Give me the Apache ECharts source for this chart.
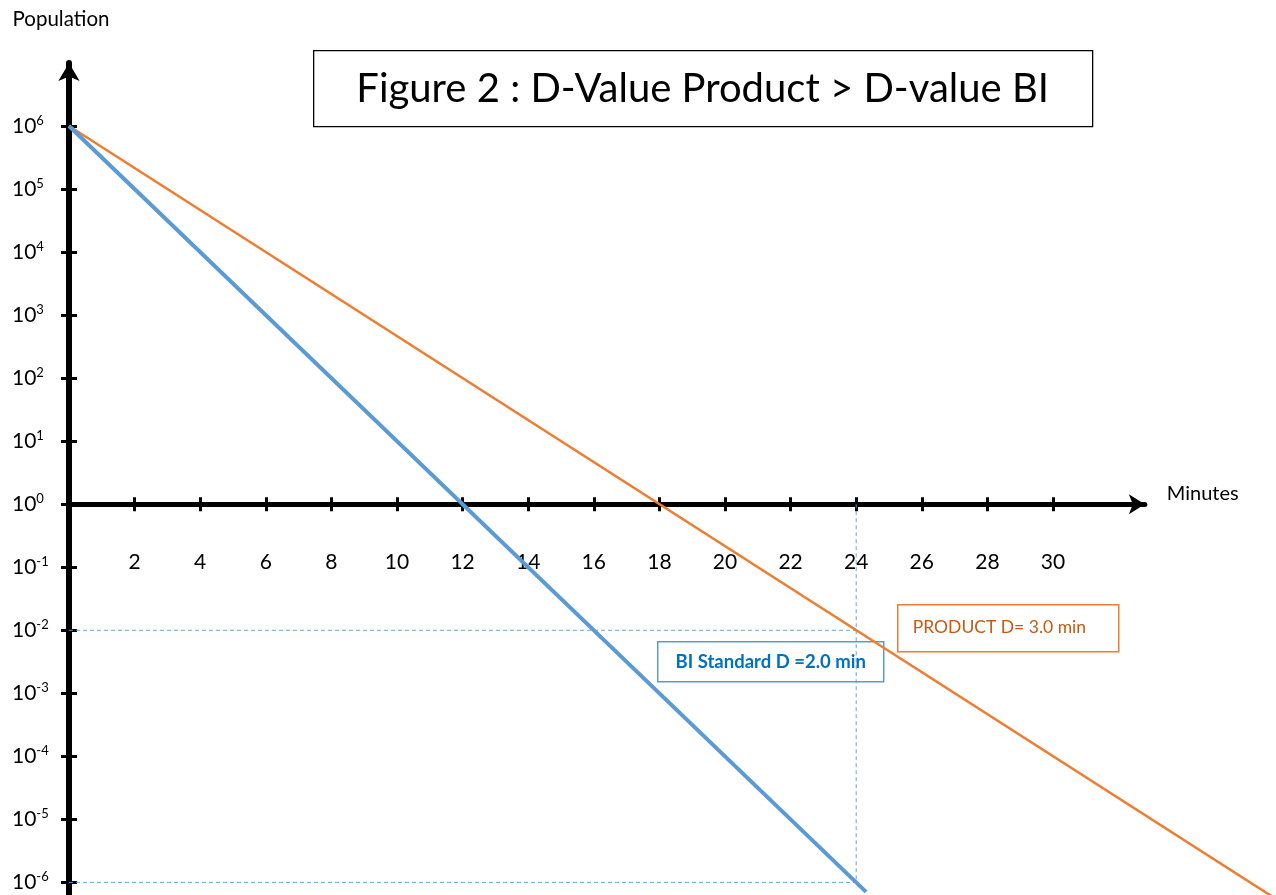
<!DOCTYPE html>
<html><head><meta charset="utf-8">
<script src="https://cdn.jsdelivr.net/npm/echarts@6/dist/echarts.min.js"></script>
<style>html,body{margin:0;padding:0;background:#fff}#c{width:1276px;height:895px}</style>
</head><body><div id="c"></div>
<script>
// ---- data ----
const xTicks = [2, 4, 6, 8, 10, 12, 14, 16, 18, 20, 22, 24, 26, 28, 30];      // minutes
const yExponents = [-6, -5, -4, -3, -2, -1, 0, 1, 2, 3, 4, 5, 6];              // log10(population)
const biLine = [[0, 6], [24.3, -6.15]];          // BI Standard, D = 2.0 min
const productLine = [[0, 6], [37, -6.33]];       // Product, D = 3.0 min
const guideAt1e2 = [[0, -2], [24, -2]];
const guideAt1e6 = [[0, -6], [24, -6]];
const guideAt24 = [[24, 0], [24, -6]];
const titleText = 'Figure 2 : D-Value Product > D-value BI';
const biLabel = 'BI Standard D =2.0 min';
const productLabel = 'PRODUCT D= 3.0 min';

const FONT = 'Lato, "Open Sans", sans-serif';
const PX_PER_MIN = 32.8, LEFT = 69, TOP = 63, HEIGHT = 832;
const AXIS_MAX = 32.8, DATA_MAX = 37, Y_MIN = -6.2, Y_MAX = 7;
const zeroY = TOP + HEIGHT * Y_MAX / (Y_MAX - Y_MIN);

const chart = echarts.init(document.getElementById('c'), null, {renderer: 'canvas'});
const guide = (d) => ({
  type: 'line', data: d, symbol: 'none', xAxisIndex: 3, yAxisIndex: 2, z: 1,
  lineStyle: {color: '#5b9bd5', width: 1, type: [4, 3], opacity: 0.9}
});
chart.setOption({
  animation: false,
  backgroundColor: '#fff',
  grid: [
    {left: LEFT, top: TOP, width: AXIS_MAX * PX_PER_MIN, height: HEIGHT, containLabel: false, outerBoundsMode: 'none'},
    {left: LEFT, top: TOP, width: DATA_MAX * PX_PER_MIN, height: HEIGHT, containLabel: false, outerBoundsMode: 'none'}
  ],
  xAxis: [{
    gridIndex: 0, type: 'value', min: 0, max: AXIS_MAX, position: 'bottom',
    splitLine: {show: false},
    axisLine: {show: true, onZero: true, lineStyle: {color: '#000', width: 5}, symbol: ['none', 'arrow'], symbolSize: [15, 16]},
    axisTick: {show: true, customValues: xTicks, length: 7, lineStyle: {color: '#000', width: 3}},
    axisLabel: {show: false},
    name: 'Minutes', nameLocation: 'end', nameGap: 22,
    nameTextStyle: {fontSize: 20, fontFamily: FONT, color: '#000', verticalAlign: 'bottom', padding: [0, 0, 1, 0]}
  }, {
    gridIndex: 0, type: 'value', min: 0, max: AXIS_MAX, position: 'top',
    splitLine: {show: false},
    axisLine: {show: true, onZero: true, lineStyle: {color: '#000', width: 0, opacity: 0}},
    axisTick: {show: true, customValues: xTicks, length: 7, lineStyle: {color: '#000', width: 3}},
    axisLabel: {show: false}
  }, {
    gridIndex: 0, type: 'value', min: 0, max: AXIS_MAX, interval: 2, position: 'bottom',
    offset: zeroY - (TOP + HEIGHT),
    splitLine: {show: false},
    axisLine: {show: false, onZero: false},
    axisTick: {show: false},
    axisLabel: {show: true, margin: 48, fontSize: 21, fontFamily: FONT, color: '#000',
      formatter: v => (xTicks.indexOf(v) >= 0 ? String(v) : '')}
  }, {
    gridIndex: 1, type: 'value', min: 0, max: DATA_MAX, show: false
  }],
  yAxis: [{
    gridIndex: 0, type: 'value', min: Y_MIN, max: Y_MAX,
    splitLine: {show: false},
    axisLine: {show: true, onZero: false, lineStyle: {color: '#000', width: 6}, symbol: ['none', 'arrow'], symbolSize: [16, 18]},
    axisTick: {show: true, customValues: yExponents, length: 8, lineStyle: {color: '#000', width: 3}},
    axisLabel: {
      customValues: yExponents, margin: 57, align: 'left',
      formatter: v => '{b|10}{s|' + v + '}',
      rich: {
        b: {fontSize: 21, fontFamily: FONT, color: '#000', lineHeight: 24},
        s: {fontSize: 13, fontFamily: FONT, color: '#000', lineHeight: 14, verticalAlign: 'top'}
      }
    },
    name: 'Population', nameLocation: 'end', nameGap: 33,
    nameTextStyle: {fontSize: 20.5, fontFamily: FONT, color: '#000', padding: [0, 16, 0, 0]}
  }, {
    gridIndex: 0, type: 'value', min: Y_MIN, max: Y_MAX, position: 'left',
    splitLine: {show: false},
    axisLine: {show: true, onZero: false, lineStyle: {width: 0, opacity: 0}},
    axisTick: {show: true, inside: true, customValues: yExponents, length: 8, lineStyle: {color: '#000', width: 3}},
    axisLabel: {show: false}
  }, {
    gridIndex: 1, type: 'value', min: Y_MIN, max: Y_MAX, show: false
  }],
  series: [
    guide(guideAt1e2), guide(guideAt1e6), guide(guideAt24),
    {type: 'line', name: 'Product', data: productLine, symbol: 'none', xAxisIndex: 3, yAxisIndex: 2, z: 3,
     lineStyle: {color: '#ed7d31', width: 2.5}},
    {type: 'line', name: 'BI Standard', data: biLine, symbol: 'none', xAxisIndex: 3, yAxisIndex: 2, z: 4,
     lineStyle: {color: '#5b9bd5', width: 4}}
  ],
  graphic: [
    {type: 'group', left: 313, top: 50, z: 100, children: [
      {type: 'rect', shape: {x: 0, y: 0, width: 779, height: 76}, style: {fill: '#fff', stroke: '#000', lineWidth: 1.3}},
      {type: 'text', x: 389, y: 38, style: {text: titleText, fontSize: 40, fontFamily: FONT, fill: '#000', align: 'center', verticalAlign: 'middle'}}
    ]},
    {type: 'group', left: 657, top: 641, z: 100, children: [
      {type: 'rect', shape: {x: 0, y: 0, width: 226, height: 40}, style: {fill: '#fff', stroke: '#5b9bd5', lineWidth: 1.5}},
      {type: 'text', x: 113, y: 20, style: {text: biLabel, fontSize: 18.5, fontWeight: 'bold', fontFamily: FONT, fill: '#0070c0', align: 'center', verticalAlign: 'middle'}}
    ]},
    {type: 'group', left: 897, top: 604, z: 100, children: [
      {type: 'rect', shape: {x: 0, y: 0, width: 221, height: 47}, style: {fill: '#fff', stroke: '#ed7d31', lineWidth: 1.5}},
      {type: 'text', x: 15, y: 23, style: {text: productLabel, fontSize: 17.5, fontFamily: FONT, fill: '#c55a11', align: 'left', verticalAlign: 'middle'}}
    ]}
  ]
});
</script></body></html>
